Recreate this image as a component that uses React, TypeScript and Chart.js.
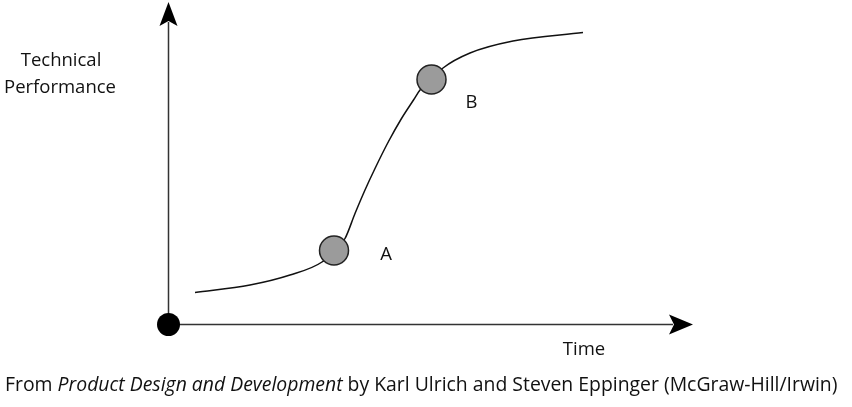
import React, { useEffect, useRef } from "react";
import { Chart, registerables } from "chart.js";
Chart.register(...registerables);

// S-curve of technical performance over time (units: arbitrary)
const curveTime = [5.3, 16.3, 24.3, 30.7, 33.1, 35.3, 37.3, 39.3, 41.3, 44.0, 46.6, 49.0, 50.3, 52.6, 54.9, 60.3, 68.9, 82.9];
const curvePerf = [6.4, 7.9, 9.9, 12.5, 14.8, 17.2, 22.2, 26.9, 31.2, 36.6, 41.2, 44.9, 46.9, 49.0, 51.3, 54.3, 56.7, 58.4];

const milestoneLabels = ["A", "B"];
const milestoneTime = [33.1, 52.6];
const milestonePerf = [14.8, 49.0];

const originPoint = [0, 0];
const axisEnd = { time: 104.9, perf: 64.5 };
const xRange = [-33.7, 136.7];
const yRange = [-16.5, 64.9];

const yTitle = ["Technical", "Performance"];
const xTitle = "Time";
const captionParts = [
  { text: "From ", italic: false },
  { text: "Product Design and Development", italic: true },
  { text: " by Karl Ulrich and Steven Eppinger (McGraw-Hill/Irwin)", italic: false },
];

const FONT = '"Open Sans", "DejaVu Sans", sans-serif';
const labelOffsets = [
  [52, 4],
  [40, 23],
];

const decorPlugin = {
  id: "decor",
  beforeDatasetsDraw(chart: any) {
    const { ctx, scales } = chart;
    const x = scales.x, y = scales.y;
    const ox = x.getPixelForValue(0), oy = y.getPixelForValue(0);
    const ex = x.getPixelForValue(axisEnd.time);
    const ey = y.getPixelForValue(axisEnd.perf);
    ctx.save();
    ctx.strokeStyle = "#333";
    ctx.lineWidth = 1.5;
    ctx.beginPath();
    ctx.moveTo(ox, oy);
    ctx.lineTo(ex - 20, oy);
    ctx.moveTo(ox, oy);
    ctx.lineTo(ox, ey + 20);
    ctx.stroke();
    ctx.fillStyle = "#000";
    // vertical arrowhead
    ctx.beginPath();
    ctx.moveTo(ox, ey);
    ctx.lineTo(ox + 9, ey + 24);
    ctx.lineTo(ox, ey + 19);
    ctx.lineTo(ox - 9, ey + 24);
    ctx.closePath();
    ctx.fill();
    // horizontal arrowhead
    ctx.beginPath();
    ctx.moveTo(ex, oy);
    ctx.lineTo(ex - 24, oy - 10);
    ctx.lineTo(ex - 19, oy);
    ctx.lineTo(ex - 24, oy + 10);
    ctx.closePath();
    ctx.fill();
    ctx.restore();
  },
  afterDatasetsDraw(chart: any) {
    const { ctx, scales } = chart;
    const x = scales.x, y = scales.y;
    ctx.save();
    ctx.fillStyle = "#111";
    ctx.textAlign = "center";
    ctx.textBaseline = "middle";
    ctx.font = `18.5px ${FONT}`;
    milestoneLabels.forEach((lab, i) => {
      const px = x.getPixelForValue(milestoneTime[i]);
      const py = y.getPixelForValue(milestonePerf[i]);
      ctx.fillText(lab, px + labelOffsets[i][0], py + labelOffsets[i][1]);
    });
    ctx.fillText(yTitle[0], 61, 61);
    ctx.fillText(yTitle[1], 60, 88);
    ctx.fillText(xTitle, x.getPixelForValue((584 - 168.5) / 5), y.getPixelForValue(0) + 25);
    // caption
    ctx.textAlign = "left";
    let cx = 5;
    captionParts.forEach((p) => {
      ctx.font = `${p.italic ? "italic " : ""}19.4px ${FONT}`;
      ctx.fillText(p.text, cx, 385);
      cx += ctx.measureText(p.text).width;
    });
    ctx.restore();
  },
};

export default function App() {
  const ref = useRef<HTMLCanvasElement>(null);
  useEffect(() => {
    document.body.style.margin = "0";
    const chart = new Chart(ref.current!, {
      type: "scatter",
      data: {
        datasets: [
          {
            data: curveTime.map((t, i) => ({ x: t, y: curvePerf[i] })),
            showLine: true,
            borderColor: "#111",
            borderWidth: 1.5,
            pointRadius: 0,
            cubicInterpolationMode: "monotone",
            order: 3,
          },
          {
            data: milestoneTime.map((t, i) => ({ x: t, y: milestonePerf[i] })),
            pointRadius: 14.5,
            backgroundColor: "#9b9b9b",
            borderColor: "#222",
            borderWidth: 1.5,
            order: 1,
          },
          {
            data: [{ x: originPoint[0], y: originPoint[1] }],
            pointRadius: 11.5,
            backgroundColor: "#000",
            borderColor: "#000",
            borderWidth: 0,
            order: 0,
          },
        ],
      },
      options: {
        responsive: false,
        animation: false,
        layout: { padding: 0, autoPadding: false },
        plugins: { legend: { display: false }, tooltip: { enabled: false } },
        scales: {
          x: { type: "linear", display: false, min: xRange[0], max: xRange[1] },
          y: { type: "linear", display: false, min: yRange[0], max: yRange[1] },
        },
      },
      plugins: [decorPlugin],
    } as any);
    return () => chart.destroy();
  }, []);
  return (
    <div style={{ position: "absolute", left: 0, top: 0, width: 852, height: 407, background: "#fff" }}>
      <canvas ref={ref} width={852} height={407} />
    </div>
  );
}
